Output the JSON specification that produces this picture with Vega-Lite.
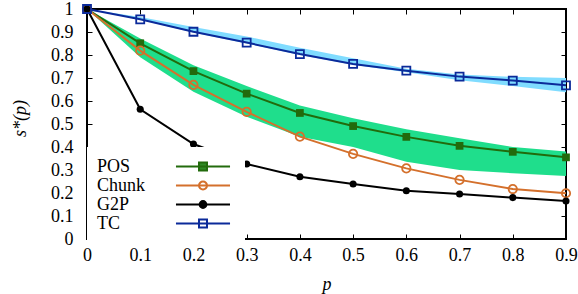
{
  "$schema": "https://vega.github.io/schema/vega-lite/v6.json",
  "width": 479,
  "height": 230,
  "autosize": {"type": "none"},
  "padding": {"left": 87, "top": 9, "right": 12, "bottom": 55},
  "background": "white",
  "config": {
    "view": {"stroke": "black", "strokeWidth": 2},
    "axis": {
      "labelFont": "Liberation Serif", "labelFontSize": 18, "labelColor": "black",
      "titleFont": "Liberation Serif", "titleFontSize": 18, "titleFontStyle": "italic",
      "titleFontWeight": "normal", "titleColor": "black",
      "tickColor": "black", "tickWidth": 1, "tickSize": -5, "domain": false,
      "gridColor": "#7a7a7a", "gridDash": [2, 3], "gridWidth": 1, "gridOpacity": 1,
      "labelFlush": false, "labelOverlap": false, "zindex": 1
    }
  },
  "datasets": {
    "lines": [
      {"series": "POS", "p": 0, "s": 1}, {"series": "POS", "p": 0.1, "s": 0.851}, {"series": "POS", "p": 0.2, "s": 0.73},
      {"series": "POS", "p": 0.3, "s": 0.632}, {"series": "POS", "p": 0.4, "s": 0.548}, {"series": "POS", "p": 0.5, "s": 0.491},
      {"series": "POS", "p": 0.6, "s": 0.444}, {"series": "POS", "p": 0.7, "s": 0.405}, {"series": "POS", "p": 0.8, "s": 0.379},
      {"series": "POS", "p": 0.9, "s": 0.355},
      {"series": "Chunk", "p": 0, "s": 1}, {"series": "Chunk", "p": 0.1, "s": 0.819}, {"series": "Chunk", "p": 0.2, "s": 0.67},
      {"series": "Chunk", "p": 0.3, "s": 0.553}, {"series": "Chunk", "p": 0.4, "s": 0.445}, {"series": "Chunk", "p": 0.5, "s": 0.37},
      {"series": "Chunk", "p": 0.6, "s": 0.307}, {"series": "Chunk", "p": 0.7, "s": 0.257}, {"series": "Chunk", "p": 0.8, "s": 0.217},
      {"series": "Chunk", "p": 0.9, "s": 0.199},
      {"series": "G2P", "p": 0, "s": 1}, {"series": "G2P", "p": 0.1, "s": 0.564}, {"series": "G2P", "p": 0.2, "s": 0.413},
      {"series": "G2P", "p": 0.3, "s": 0.326}, {"series": "G2P", "p": 0.4, "s": 0.271}, {"series": "G2P", "p": 0.5, "s": 0.239},
      {"series": "G2P", "p": 0.6, "s": 0.21}, {"series": "G2P", "p": 0.7, "s": 0.196}, {"series": "G2P", "p": 0.8, "s": 0.18},
      {"series": "G2P", "p": 0.9, "s": 0.165},
      {"series": "TC", "p": 0, "s": 1}, {"series": "TC", "p": 0.1, "s": 0.955}, {"series": "TC", "p": 0.2, "s": 0.901},
      {"series": "TC", "p": 0.3, "s": 0.854}, {"series": "TC", "p": 0.4, "s": 0.804}, {"series": "TC", "p": 0.5, "s": 0.761},
      {"series": "TC", "p": 0.6, "s": 0.732}, {"series": "TC", "p": 0.7, "s": 0.706}, {"series": "TC", "p": 0.8, "s": 0.689},
      {"series": "TC", "p": 0.9, "s": 0.668}
    ],
    "bands": [
      {"series": "POS", "p": 0, "lo": 1, "hi": 1}, {"series": "POS", "p": 0.1, "lo": 0.79, "hi": 0.872},
      {"series": "POS", "p": 0.2, "lo": 0.64, "hi": 0.755}, {"series": "POS", "p": 0.3, "lo": 0.532, "hi": 0.665},
      {"series": "POS", "p": 0.4, "lo": 0.445, "hi": 0.58}, {"series": "POS", "p": 0.5, "lo": 0.4, "hi": 0.525},
      {"series": "POS", "p": 0.6, "lo": 0.336, "hi": 0.477}, {"series": "POS", "p": 0.7, "lo": 0.3, "hi": 0.438},
      {"series": "POS", "p": 0.8, "lo": 0.286, "hi": 0.4}, {"series": "POS", "p": 0.9, "lo": 0.274, "hi": 0.38},
      {"series": "TC", "p": 0, "lo": 1, "hi": 1}, {"series": "TC", "p": 0.1, "lo": 0.953, "hi": 0.965},
      {"series": "TC", "p": 0.2, "lo": 0.898, "hi": 0.922}, {"series": "TC", "p": 0.3, "lo": 0.85, "hi": 0.88},
      {"series": "TC", "p": 0.4, "lo": 0.8, "hi": 0.832}, {"series": "TC", "p": 0.5, "lo": 0.758, "hi": 0.786},
      {"series": "TC", "p": 0.6, "lo": 0.725, "hi": 0.74}, {"series": "TC", "p": 0.7, "lo": 0.69, "hi": 0.715},
      {"series": "TC", "p": 0.8, "lo": 0.665, "hi": 0.705}, {"series": "TC", "p": 0.9, "lo": 0.638, "hi": 0.7}
    ]
  },
  "layer": [
    {
      "data": {"name": "bands"},
      "mark": {"type": "area", "opacity": 1},
      "encoding": {
        "x": {"field": "p", "type": "quantitative", "scale": {"domain": [0, 0.9], "nice": false, "zero": false}, "axis": null},
        "y": {"field": "lo", "type": "quantitative", "scale": {"domain": [0, 1], "nice": false}, "axis": null},
        "y2": {"field": "hi"},
        "fill": {"field": "series", "type": "nominal", "scale": {"domain": ["POS", "TC"], "range": ["#1fde8c", "#80dcff"]}, "legend": null}
      }
    },
    {
      "data": {"name": "lines"},
      "mark": {"type": "line", "strokeWidth": 2},
      "encoding": {
        "x": {"field": "p", "type": "quantitative",
          "axis": {"values": [0, 0.1, 0.2, 0.3, 0.4, 0.5, 0.6, 0.7, 0.8, 0.9],
            "labelExpr": "datum.value == 0 ? '0' : format(datum.value, '.1f')",
            "labelPadding": 12, "title": "p", "titleX": 239.5, "titleY": 50, "titleBaseline": "alphabetic", "titleAlign": "center"}},
        "y": {"field": "s", "type": "quantitative",
          "axis": {"values": [0, 0.1, 0.2, 0.3, 0.4, 0.5, 0.6, 0.7, 0.8, 0.9, 1],
            "labelExpr": "datum.value == 0 ? '0' : datum.value == 1 ? '1' : format(datum.value, '.1f')",
            "labelPadding": 19, "title": "s*(p)", "titleAngle": -90, "titleX": -67, "titleY": 109, "titleAlign": "center", "titleBaseline": "middle"}},
        "color": {"field": "series", "type": "nominal",
          "scale": {"domain": ["POS", "Chunk", "G2P", "TC"], "range": ["#226b0c", "#d4702c", "#000000", "#0b2a9a"]},
          "legend": {
            "orient": "none", "legendX": 0, "legendY": 138, "title": null, "fillColor": "white", "padding": 10,
            "labelFont": "Liberation Serif", "labelFontSize": 18, "labelColor": "black", "labelLimit": 200,
            "labelOffset": -115.5, "symbolOffset": 96.5, "symbolSize": 289, "symbolStrokeWidth": 2,
            "rowPadding": 0, "zindex": 2,
            "encode": {
              "symbols": {"update": {
              "shape": {"signal": "datum.value === 'POS' || datum.value === 'TC' ? 'M-3.18,0H3.18M-0.47,-0.47H0.47V0.47H-0.47Z' : datum.value === 'Chunk' ? 'M-3.18,0H3.18M0.47,0A0.47,0.47,0,1,1,-0.47,0A0.47,0.47,0,1,1,0.47,0Z' : 'M-3.18,0H3.18M0.4,0A0.4,0.4,0,1,1,-0.4,0A0.4,0.4,0,1,1,0.4,0Z'"},
              "fill": {"signal": "datum.value === 'POS' ? '#2f8a25' : datum.value === 'G2P' ? '#000000' : '#ffffff'"},
              "stroke": {"signal": "datum.value === 'POS' ? '#2f8a25' : datum.value === 'Chunk' ? '#d87a36' : datum.value === 'G2P' ? '#000000' : '#1434a8'"},
              "opacity": {"value": 1}
            }}}
          }
        }
      }
    },
    {
      "data": {"name": "lines"},
      "transform": [{"filter": "datum.series === 'POS'"}],
      "mark": {"type": "point", "shape": "square", "filled": true, "size": 60, "opacity": 1, "color": "#226b0c"},
      "encoding": {
        "x": {"field": "p", "type": "quantitative", "axis": null},
        "y": {"field": "s", "type": "quantitative", "axis": null}
      }
    },
    {
      "data": {"name": "lines"},
      "transform": [{"filter": "datum.series === 'Chunk'"}],
      "mark": {"type": "point", "shape": "circle", "filled": false, "size": 70, "strokeWidth": 1.8, "opacity": 1, "color": "#d4702c"},
      "encoding": {
        "x": {"field": "p", "type": "quantitative", "axis": null},
        "y": {"field": "s", "type": "quantitative", "axis": null}
      }
    },
    {
      "data": {"name": "lines"},
      "transform": [{"filter": "datum.series === 'G2P'"}],
      "mark": {"type": "point", "shape": "circle", "filled": true, "size": 50, "opacity": 1, "color": "#000000"},
      "encoding": {
        "x": {"field": "p", "type": "quantitative", "axis": null},
        "y": {"field": "s", "type": "quantitative", "axis": null}
      }
    },
    {
      "data": {"name": "lines"},
      "transform": [{"filter": "datum.series === 'TC'"}],
      "mark": {"type": "point", "shape": "square", "filled": false, "size": 64, "strokeWidth": 1.8, "opacity": 1, "color": "#0b2a9a"},
      "encoding": {
        "x": {"field": "p", "type": "quantitative", "axis": null},
        "y": {"field": "s", "type": "quantitative", "axis": null}
      }
    },
    {
      "data": {"name": "lines"},
      "mark": {"type": "point", "opacity": 0},
      "encoding": {
        "x": {"field": "p", "type": "quantitative",
          "axis": {"orient": "top", "values": [0.1, 0.2, 0.3, 0.4, 0.5, 0.6, 0.7, 0.8], "labels": false, "grid": false, "title": null, "tickSize": -5}},
        "y": {"field": "s", "type": "quantitative",
          "axis": {"orient": "right", "values": [0.1, 0.2, 0.3, 0.4, 0.5, 0.6, 0.7, 0.8, 0.9], "labels": false, "grid": false, "title": null, "tickSize": -5}}
      }
    }
  ],
  "resolve": {"axis": {"x": "independent", "y": "independent"}}
}
